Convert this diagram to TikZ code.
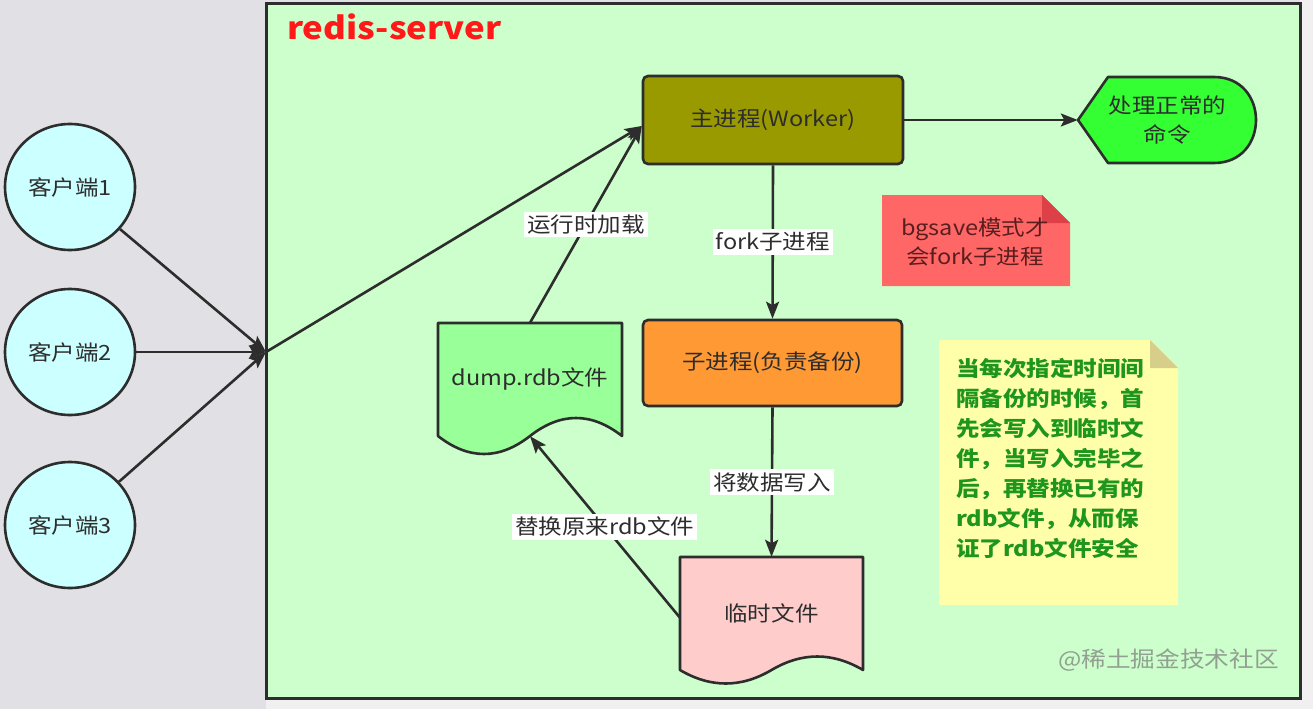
\documentclass[tikz,border=0pt]{standalone}
\usepackage{fontspec}
\setmainfont[FakeStretch=1.12]{Noto Sans CJK SC}
\usetikzlibrary{shapes.geometric,arrows.meta}
\definecolor{bggray}{RGB}{225,225,229}
\definecolor{bgwhite}{RGB}{240,240,240}
\definecolor{srvfill}{RGB}{204,255,204}
\definecolor{linec}{RGB}{45,45,45}
\definecolor{textc}{RGB}{45,45,45}
\definecolor{clientc}{RGB}{204,255,255}
\definecolor{mainc}{RGB}{153,153,0}
\definecolor{dispc}{RGB}{51,255,51}
\definecolor{childc}{RGB}{255,153,51}
\definecolor{dumpc}{RGB}{153,255,153}
\definecolor{tempc}{RGB}{255,204,204}
\definecolor{rednote}{RGB}{255,102,102}
\definecolor{rednotefold}{RGB}{222,64,72}
\definecolor{rednotetext}{RGB}{90,30,30}
\definecolor{yelnote}{RGB}{255,255,170}
\definecolor{yelnotefold}{RGB}{214,206,138}
\definecolor{yeltext}{RGB}{30,150,30}
\definecolor{wmark}{RGB}{145,160,145}
\definecolor{titlered}{RGB}{255,25,25}
\newcommand\myfs[2]{\fontsize{#1}{#2}\selectfont}
\begin{document}
\begin{tikzpicture}[x=1pt,y=-1pt,
  edge/.style={draw=linec, line width=2.6pt},
  arr/.style={edge, -{Stealth[length=17pt,width=13pt,inset=3.5pt]}},
  lab/.style={fill=white, inner sep=3pt, text=textc, font=\myfs{21}{26}},
  client/.style={ellipse, draw=linec, line width=2.6pt, fill=clientc,
    minimum width=130pt, minimum height=126pt, inner sep=0pt, text=textc, font=\myfs{21}{26}},
  procbox/.style={rectangle, rounded corners=5pt, draw=linec, line width=2.6pt,
    inner sep=0pt, text=textc, font=\myfs{21}{26}},
  plainbox/.style={rectangle, inner sep=0pt, text=textc, font=\myfs{21}{29}, align=center},
  shapeline/.style={draw=linec, line width=2.6pt, line join=round}
]
\useasboundingbox (0,0) rectangle (1313,709);
% background
\fill[bggray] (0,0) rectangle (1313,709);
\fill[bgwhite] (1300,0) rectangle (1313,709);
\fill[bgwhite] (266,698) rectangle (1313,709);
% server container
\draw[fill=srvfill, draw=linec, line width=3pt] (266,4) rectangle (1300,698);
\node[anchor=base west, text=titlered, font=\bfseries\myfs{31}{36}, inner sep=0pt] (title) at (287,40) {redis-server};

% clients
\node[client] (c1) at (70,187) {客户端1};
\node[client] (c2) at (70,352) {客户端2};
\node[client] (c3) at (70,525) {客户端3};
\coordinate (hub) at (266,352);

% main process
\node[procbox, fill=mainc, minimum width=260pt, minimum height=88pt] (main) at (773,120) {主进程(Worker)};
% child process
\node[procbox, fill=childc, minimum width=259pt, minimum height=86pt] (child) at (772.5,363) {子进程(负责备份)};

% display shape
\fill[dispc] (1078,120) -- (1108,77) -- (1214,77) .. controls (1270,77) and (1270,163) .. (1214,163) -- (1108,163) -- cycle;
\draw[shapeline] (1078,120) -- (1108,77) -- (1214,77) .. controls (1270,77) and (1270,163) .. (1214,163) -- (1108,163) -- cycle;
\node[plainbox, minimum width=179pt, minimum height=86pt] (disp) at (1167.5,120) {处理正常的\\命令};

% dump document
\draw[shapeline, fill=dumpc] (438,323) -- (622,323) -- (622,436)
  .. controls (591.3,412) and (560.7,412) .. (530,436)
  .. controls (499.3,460) and (468.7,460) .. (438,436) -- cycle;
\node[plainbox, minimum width=184pt, minimum height=113pt] (dump) at (530,379.5) {dump.rdb文件};

% temp document
\draw[shapeline, fill=tempc] (680,557) -- (863,557) -- (863,670)
  .. controls (832.5,652) and (802,652) .. (771.5,670)
  .. controls (741,688) and (710.5,688) .. (680,670) -- cycle;
\node[plainbox, minimum width=183pt, minimum height=113pt] (temp) at (771.5,613.5) {临时文件};

% red note
\fill[rednote] (882,195) -- (1042,195) -- (1070,223) -- (1070,286) -- (882,286) -- cycle;
\fill[rednotefold] (1042,195) -- (1042,223) -- (1070,223) -- cycle;
\node[plainbox, text=rednotetext] (rnote) at (975,242) {bgsave模式才\\会fork子进程};

% yellow note
\fill[yelnote] (939,340) -- (1150,340) -- (1178,368) -- (1178,605) -- (939,605) -- cycle;
\fill[yelnotefold] (1150,340) -- (1150,368) -- (1178,368) -- cycle;
\node[anchor=north west, inner sep=0pt, align=left, text=yeltext, font=\bfseries\myfs{21}{30}] (ynote) at (956,358)
  {当每次指定时间间\\隔备份的时候，首\\先会写入到临时文\\件，当写入完毕之\\后，再替换已有的\\rdb文件，从而保\\证了rdb文件安全};

% watermark
\node[anchor=east, inner sep=0pt, text=wmark, font=\myfs{22}{26}] (wm) at (1279,660) {@稀土掘金技术社区};

% connectors
\draw[arr] (c1) -- (hub);
\draw[arr] (c2) -- (hub);
\draw[arr] (c3) -- (hub);
\draw[arr] (hub) -- ([yshift=-6pt]main.west);
\draw[arr] (dump.north) -- node[lab] {运行时加载} ([yshift=-6pt]main.west);
\draw[arr] (main.east) -- (disp.west);
\draw[arr] (main.south) -- node[lab] {fork子进程} (child.north);
\draw[arr] (child.south) -- node[lab] {将数据写入} (temp.north);
\draw[arr] ([yshift=-4pt]temp.west) -- node[lab] {替换原来rdb文件} (dump.south);
\end{tikzpicture}
\end{document}
